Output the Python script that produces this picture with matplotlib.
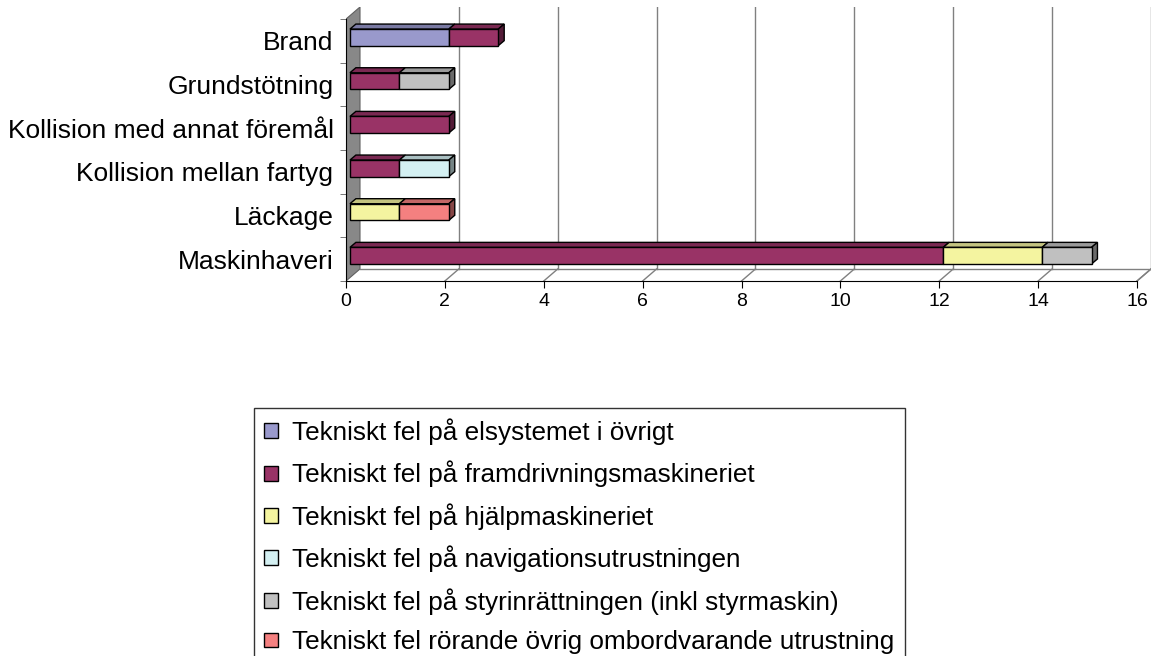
import matplotlib.pyplot as plt
from matplotlib.patches import Polygon, Patch
import matplotlib.colors as mcolors

plt.rcParams['font.family'] = ['Liberation Sans', 'DejaVu Sans']

categories = ['Brand', 'Grundstötning', 'Kollision med annat föremål',
              'Kollision mellan fartyg', 'Läckage', 'Maskinhaveri']
series_names = ['Tekniskt fel på elsystemet i övrigt',
                'Tekniskt fel på framdrivningsmaskineriet',
                'Tekniskt fel på hjälpmaskineriet',
                'Tekniskt fel på navigationsutrustningen',
                'Tekniskt fel på styrinrättningen (inkl styrmaskin)',
                'Tekniskt fel rörande övrig ombordvarande utrustning']
# values per series, in category order
elsystem = [2, 0, 0, 0, 0, 0]
framdrivning = [1, 1, 2, 1, 0, 12]
hjalp = [0, 0, 0, 0, 1, 2]
navigation = [0, 0, 0, 1, 0, 0]
styr = [0, 1, 0, 0, 0, 1]
ovrig = [0, 0, 0, 0, 1, 0]
series = [elsystem, framdrivning, hjalp, navigation, styr, ovrig]
colors = ['#9999cc', '#993366', '#f4f4a0', '#d4f0f2', '#c0c0c0', '#f48080']
xticks = list(range(0, 17, 2))

W, H = 1152, 656
fig = plt.figure(figsize=(W / 100, H / 100), dpi=100)

# 3d look: back plane offset and bar depth (data units)
DX, DY = 0.283, 0.276
BX, BY = 0.08, 0.08
DDX, DDY = 0.12, 0.115
bh = 0.38

ax = fig.add_axes([346 / W, (H - 281) / H, 805 / W, 274 / H])
ax.set_xlim(0, 16 + DX)
ax.set_ylim(0, 6 + DY)
ax.patch.set_visible(False)

n = len(categories)
centers = [n - 0.5 - i for i in range(n)]

# wall and floor
ax.add_patch(Polygon([(0, 0), (0, n), (DX, n + DY), (DX, DY)],
                     closed=True, facecolor='#888888', edgecolor='#606060', lw=0.8, zorder=1))
ax.plot([DX, 16 + DX], [DY, DY], color='#808080', lw=1, zorder=1)
ax.plot([16, 16 + DX], [0, DY], color='#808080', lw=1, zorder=1)
for v in xticks[1:]:
    ax.plot([v + DX, v + DX], [DY, n + DY], color='#808080', lw=1, zorder=1)
    ax.plot([v, v + DX], [0, DY], color='#808080', lw=1, zorder=1)


def shade(c, f):
    r, g, b = mcolors.to_rgb(c)
    return (r * f, g * f, b * f)


for i in range(n):
    c = centers[i]
    left = 0
    segs = [(series[k][i], colors[k]) for k in range(len(series)) if series[k][i] > 0]
    for j, (w, col) in enumerate(segs):
        x0 = left + BX
        x1 = left + w + BX
        y0 = c - bh / 2 + BY
        y1 = c + bh / 2 + BY
        ax.add_patch(Polygon([(x0, y1), (x1, y1), (x1 + DDX, y1 + DDY), (x0 + DDX, y1 + DDY)],
                             closed=True, facecolor=shade(col, 0.8), edgecolor='black', lw=1, zorder=3))
        ax.barh(c + BY, w, left=left + BX, height=bh, color=col, edgecolor='black', lw=1, zorder=4)
        if j == len(segs) - 1:
            ax.add_patch(Polygon([(x1, y0), (x1, y1), (x1 + DDX, y1 + DDY), (x1 + DDX, y0 + DDY)],
                                 closed=True, facecolor=shade(col, 0.55), edgecolor='black', lw=1, zorder=3))
        left += w

for s in ['top', 'right']:
    ax.spines[s].set_visible(False)
ax.spines['bottom'].set_bounds(0, 16)
ax.spines['left'].set_bounds(0, n)
ax.set_xticks(xticks)
ax.set_xticklabels([str(v) for v in xticks], fontsize=14)
ax.tick_params(axis='x', length=5, pad=4, colors='black')
ax.set_yticks(centers)
ax.set_yticklabels(categories, fontsize=19)
ax.tick_params(axis='y', length=0, pad=9)
ax.set_yticks(range(n + 1), minor=True)
ax.tick_params(axis='y', which='minor', length=4, color='#606060')

handles = [Patch(facecolor=colors[k], edgecolor='black', lw=1) for k in range(len(series))]
fig.legend(handles, series_names, loc='upper left', bbox_to_anchor=(254 / W, 1 - 408 / H),
           borderaxespad=0, frameon=True, fancybox=False, edgecolor='black', fontsize=18.8,
           handlelength=0.5, handleheight=0.5, handletextpad=0.55, labelspacing=0.6,
           borderpad=0.4)

fig.savefig('out.png', dpi=100)
